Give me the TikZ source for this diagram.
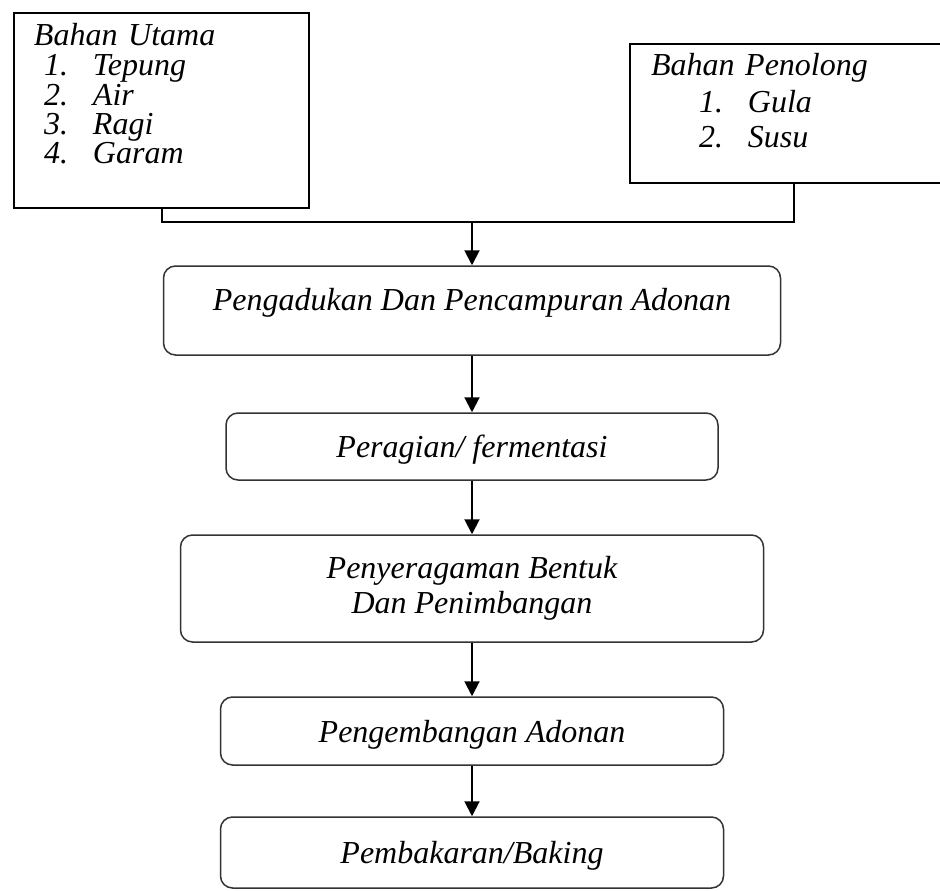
\documentclass[tikz,border=0pt]{standalone}
\usepackage{fontspec}
\setmainfont{Liberation Serif}
\usetikzlibrary{arrows.meta,positioning}

\newcommand{\butir}[3]{\hspace*{#1}\makebox[49pt][l]{#2}#3}

\begin{document}
\begin{tikzpicture}[x=1pt,y=-1pt,
  >={Triangle[width=15pt,length=15pt]},
  every node/.style={font=\fontsize{32}{36}\selectfont\itshape},
  bahan/.style={draw,line width=2pt,inner ysep=0pt,align=left,anchor=north west},
  proses/.style={draw=black!80,line width=1.5pt,rounded corners=12pt,inner sep=0pt,align=center},
  satu/.style={text height=22pt,text depth=0pt},
  garis/.style={line width=2pt},
  panah/.style={line width=2pt,->}]
  \useasboundingbox (0,0) rectangle (940,891);
  % bahan baku
  \node[bahan,inner xsep=20pt,text width=255pt,text height=33pt,text depth=162pt,
        font=\fontsize{32}{29.5}\selectfont\itshape] (utama) at (13,12)
    {Bahan Utama\\ \butir{10pt}{1.}{Tepung}\\ \butir{10pt}{2.}{Air}\\
     \butir{10pt}{3.}{Ragi}\\ \butir{10pt}{4.}{Garam}};
  \node[bahan,inner xsep=21pt,text width=286pt,text height=32pt,text depth=107pt] (penolong) at (629,43)
    {Bahan Penolong\\ \butir{48pt}{1.}{Gula}\\ \butir{48pt}{2.}{Susu}};
  \coordinate (gabung) at (472,222);
  % tahapan proses
  \node[proses,satu,minimum width=617pt,minimum height=89pt,text depth=22pt] (aduk) at (472,310.5)
    {Pengadukan Dan Pencampuran Adonan};
  \node[proses,satu,minimum width=492pt,minimum height=67pt] (ragi) at (472,446.5)
    {Peragian/ fermentasi};
  \node[proses,minimum width=583pt,minimum height=107pt,font=\fontsize{32}{35}\selectfont\itshape] (bentuk) at (472,588.5)
    {Penyeragaman Bentuk\\ Dan Penimbangan};
  \node[proses,satu,minimum width=503pt,minimum height=68pt] (kembang) at (472,731)
    {Pengembangan Adonan};
  \node[proses,satu,minimum width=503pt,minimum height=71pt] (bakar) at (472,852.5)
    {Pembakaran/Baking};
  % alur
  \draw[garis] (utama.south) |- (gabung) -| (penolong.south);
  \draw[panah] (gabung) -- (aduk);
  \draw[panah] (aduk) -- (ragi);
  \draw[panah] (ragi) -- (bentuk);
  \draw[panah] (bentuk) -- (kembang);
  \draw[panah] (kembang) -- (bakar);
\end{tikzpicture}
\end{document}
